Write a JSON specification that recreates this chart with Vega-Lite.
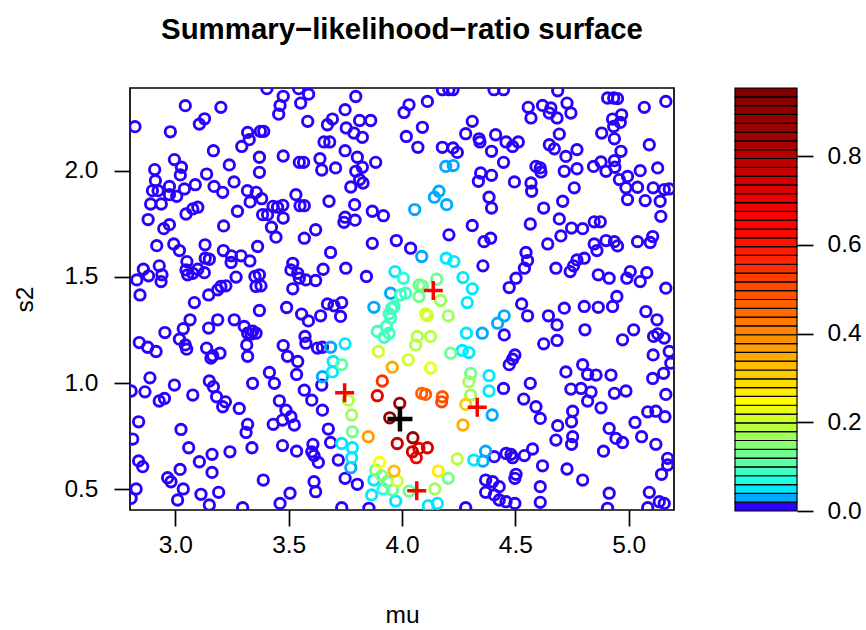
{
"$schema": "https://vega.github.io/schema/vega-lite/v6.json",
"padding": {"left": 12, "top": 13, "right": 7, "bottom": 0},
"background": "white",
"bounds": "flush",
"spacing": 61,
"config": {
  "font": "Liberation Sans",
  "view": {"stroke": null},
  "axis": {"labelFont": "Liberation Sans", "titleFont": "Liberation Sans", "labelColor": "black", "titleColor": "black", "tickColor": "black", "labelFontSize": 24.5, "titleFontSize": 24.5, "titleFontWeight": "normal", "tickSize": 16, "tickWidth": 1.7, "domain": false, "grid": false}
},
"datasets": {
"pts": [
{"mu":3.404,"s2":2.386,"z":0.01},{"mu":3.476,"s2":2.350,"z":0.01},{"mu":3.544,"s2":2.386,"z":0.01},{"mu":3.588,"s2":2.360,"z":0.01},{"mu":3.553,"s2":2.318,"z":0.01},{"mu":3.462,"s2":2.307,"z":0.01},{"mu":3.456,"s2":2.266,"z":0.01},{"mu":3.044,"s2":2.306,"z":0.01},{"mu":3.201,"s2":2.298,"z":0.01},{"mu":3.129,"s2":2.244,"z":0.01},{"mu":3.106,"s2":2.219,"z":0.01},{"mu":2.822,"s2":2.207,"z":0.01},{"mu":2.978,"s2":2.183,"z":0.01},{"mu":3.584,"s2":2.232,"z":0.01},{"mu":3.319,"s2":2.180,"z":0.01},{"mu":3.375,"s2":2.185,"z":0.01},{"mu":3.390,"s2":2.185,"z":0.01},{"mu":3.326,"s2":2.146,"z":0.01},{"mu":3.293,"s2":2.114,"z":0.01},{"mu":3.168,"s2":2.094,"z":0.01},{"mu":2.996,"s2":2.052,"z":0.01},{"mu":3.027,"s2":2.016,"z":0.01},{"mu":2.909,"s2":2.005,"z":0.01},{"mu":3.022,"s2":1.980,"z":0.01},{"mu":2.912,"s2":1.953,"z":0.01},{"mu":3.138,"s2":1.984,"z":0.01},{"mu":3.238,"s2":2.027,"z":0.01},{"mu":3.371,"s2":2.063,"z":0.01},{"mu":3.371,"s2":1.992,"z":0.01},{"mu":3.476,"s2":2.069,"z":0.01},{"mu":3.547,"s2":2.039,"z":0.01},{"mu":3.566,"s2":2.039,"z":0.01},{"mu":3.088,"s2":1.934,"z":0.01},{"mu":3.171,"s2":1.926,"z":0.01},{"mu":3.209,"s2":1.898,"z":0.01},{"mu":3.259,"s2":1.947,"z":0.01},{"mu":2.899,"s2":1.906,"z":0.01},{"mu":2.924,"s2":1.906,"z":0.01},{"mu":2.974,"s2":1.926,"z":0.01},{"mu":3.040,"s2":1.914,"z":0.01},{"mu":2.974,"s2":1.887,"z":0.01},{"mu":3.006,"s2":1.879,"z":0.01},{"mu":2.891,"s2":1.843,"z":0.01},{"mu":2.938,"s2":1.843,"z":0.01},{"mu":3.318,"s2":1.906,"z":0.01},{"mu":3.357,"s2":1.898,"z":0.01},{"mu":3.381,"s2":1.868,"z":0.01},{"mu":3.330,"s2":1.853,"z":0.01},{"mu":3.532,"s2":1.887,"z":0.01},{"mu":3.550,"s2":1.835,"z":0.01},{"mu":3.569,"s2":1.835,"z":0.01},{"mu":3.431,"s2":1.832,"z":0.01},{"mu":3.451,"s2":1.828,"z":0.01},{"mu":3.474,"s2":1.837,"z":0.01},{"mu":3.077,"s2":1.820,"z":0.01},{"mu":3.099,"s2":1.828,"z":0.01},{"mu":3.047,"s2":1.796,"z":0.01},{"mu":3.274,"s2":1.809,"z":0.01},{"mu":3.385,"s2":1.793,"z":0.01},{"mu":3.407,"s2":1.793,"z":0.01},{"mu":3.476,"s2":1.777,"z":0.01},{"mu":2.880,"s2":1.770,"z":0.01},{"mu":2.949,"s2":1.727,"z":0.01},{"mu":2.974,"s2":1.746,"z":0.01},{"mu":3.213,"s2":1.740,"z":0.01},{"mu":3.424,"s2":1.734,"z":0.01},
{"mu":3.796,"s2":2.349,"z":0.01},{"mu":3.749,"s2":2.287,"z":0.01},{"mu":3.693,"s2":2.243,"z":0.01},{"mu":3.671,"s2":2.216,"z":0.01},{"mu":3.813,"s2":2.236,"z":0.01},{"mu":3.862,"s2":2.236,"z":0.01},{"mu":3.754,"s2":2.201,"z":0.01},{"mu":3.788,"s2":2.177,"z":0.01},{"mu":3.825,"s2":2.157,"z":0.01},{"mu":3.656,"s2":2.135,"z":0.01},{"mu":3.681,"s2":2.135,"z":0.01},{"mu":3.749,"s2":2.094,"z":0.01},{"mu":3.803,"s2":2.063,"z":0.01},{"mu":3.638,"s2":2.056,"z":0.01},{"mu":3.646,"s2":2.003,"z":0.01},{"mu":3.707,"s2":2.013,"z":0.01},{"mu":3.884,"s2":2.039,"z":0.01},{"mu":3.796,"s2":1.997,"z":0.01},{"mu":3.825,"s2":2.016,"z":0.01},{"mu":3.813,"s2":1.958,"z":0.01},{"mu":3.828,"s2":1.942,"z":0.01},{"mu":3.774,"s2":1.923,"z":0.01},{"mu":3.678,"s2":1.856,"z":0.01},{"mu":3.791,"s2":1.840,"z":0.01},{"mu":3.869,"s2":1.809,"z":0.01},{"mu":3.918,"s2":1.788,"z":0.01},{"mu":3.749,"s2":1.781,"z":0.01},{"mu":3.744,"s2":1.757,"z":0.01},{"mu":3.793,"s2":1.767,"z":0.01},{"mu":4.031,"s2":2.310,"z":0.01},{"mu":4.009,"s2":2.274,"z":0.01},{"mu":4.112,"s2":2.326,"z":0.01},{"mu":4.090,"s2":2.204,"z":0.01},{"mu":4.019,"s2":2.161,"z":0.01},{"mu":4.070,"s2":2.110,"z":0.01},{"mu":4.178,"s2":2.381,"z":0.01},{"mu":4.207,"s2":2.381,"z":0.01},{"mu":4.225,"s2":2.381,"z":0.01},{"mu":4.178,"s2":2.110,"z":0.01},{"mu":4.225,"s2":2.107,"z":0.01},{"mu":4.244,"s2":2.086,"z":0.01},{"mu":4.310,"s2":2.232,"z":0.01},{"mu":4.281,"s2":2.174,"z":0.01},{"mu":4.340,"s2":2.150,"z":0.01},{"mu":4.344,"s2":2.135,"z":0.01},{"mu":4.395,"s2":2.091,"z":0.01},{"mu":4.413,"s2":2.169,"z":0.01},{"mu":4.406,"s2":2.381,"z":0.01},{"mu":4.347,"s2":1.989,"z":0.01},{"mu":4.337,"s2":1.950,"z":0.01},{"mu":4.395,"s2":1.978,"z":0.01},{"mu":4.384,"s2":1.875,"z":0.01},{"mu":4.395,"s2":1.824,"z":0.01},{"mu":4.310,"s2":1.742,"z":0.01},
{"mu":4.448,"s2":2.381,"z":0.01},{"mu":4.687,"s2":2.376,"z":0.01},{"mu":4.557,"s2":2.298,"z":0.01},{"mu":4.569,"s2":2.248,"z":0.01},{"mu":4.620,"s2":2.307,"z":0.01},{"mu":4.657,"s2":2.295,"z":0.01},{"mu":4.650,"s2":2.271,"z":0.01},{"mu":4.684,"s2":2.248,"z":0.01},{"mu":4.728,"s2":2.318,"z":0.01},{"mu":4.745,"s2":2.271,"z":0.01},{"mu":4.907,"s2":2.342,"z":0.01},{"mu":4.934,"s2":2.342,"z":0.01},{"mu":4.951,"s2":2.339,"z":0.01},{"mu":5.069,"s2":2.298,"z":0.01},{"mu":5.164,"s2":2.326,"z":0.01},{"mu":4.929,"s2":2.243,"z":0.01},{"mu":4.969,"s2":2.263,"z":0.01},{"mu":4.963,"s2":2.227,"z":0.01},{"mu":4.934,"s2":2.208,"z":0.01},{"mu":4.881,"s2":2.177,"z":0.01},{"mu":4.937,"s2":2.150,"z":0.01},{"mu":4.694,"s2":2.172,"z":0.01},{"mu":4.459,"s2":2.135,"z":0.01},{"mu":4.488,"s2":2.114,"z":0.01},{"mu":4.513,"s2":2.135,"z":0.01},{"mu":4.650,"s2":2.122,"z":0.01},{"mu":4.672,"s2":2.103,"z":0.01},{"mu":4.723,"s2":2.067,"z":0.01},{"mu":4.772,"s2":2.099,"z":0.01},{"mu":4.966,"s2":2.091,"z":0.01},{"mu":4.448,"s2":2.039,"z":0.01},{"mu":5.091,"s2":2.122,"z":0.01},{"mu":4.496,"s2":1.947,"z":0.01},{"mu":4.591,"s2":2.020,"z":0.01},{"mu":4.610,"s2":2.013,"z":0.01},{"mu":4.613,"s2":1.994,"z":0.01},{"mu":4.716,"s2":1.997,"z":0.01},{"mu":4.772,"s2":2.009,"z":0.01},{"mu":4.845,"s2":2.020,"z":0.01},{"mu":4.878,"s2":2.041,"z":0.01},{"mu":4.900,"s2":1.997,"z":0.01},{"mu":4.937,"s2":2.047,"z":0.01},{"mu":4.939,"s2":2.016,"z":0.01},{"mu":4.959,"s2":1.958,"z":0.01},{"mu":4.995,"s2":1.973,"z":0.01},{"mu":5.051,"s2":2.000,"z":0.01},{"mu":5.128,"s2":2.013,"z":0.01},{"mu":4.569,"s2":1.942,"z":0.01},{"mu":4.572,"s2":1.903,"z":0.01},{"mu":4.760,"s2":1.919,"z":0.01},{"mu":4.988,"s2":1.919,"z":0.01},{"mu":5.039,"s2":1.922,"z":0.01},{"mu":5.108,"s2":1.919,"z":0.01},{"mu":5.157,"s2":1.911,"z":0.01},{"mu":5.179,"s2":1.914,"z":0.01},{"mu":4.995,"s2":1.864,"z":0.01},{"mu":5.073,"s2":1.859,"z":0.01},{"mu":5.139,"s2":1.856,"z":0.01},{"mu":4.709,"s2":1.856,"z":0.01},{"mu":4.625,"s2":1.824,"z":0.01},{"mu":4.694,"s2":1.773,"z":0.01},{"mu":4.566,"s2":1.749,"z":0.01},{"mu":4.748,"s2":1.730,"z":0.01},{"mu":4.797,"s2":1.727,"z":0.01},{"mu":4.848,"s2":1.759,"z":0.01},{"mu":4.875,"s2":1.759,"z":0.01},{"mu":5.142,"s2":1.785,"z":0.01},
{"mu":3.444,"s2":1.687,"z":0.01},{"mu":3.569,"s2":1.682,"z":0.01},{"mu":2.918,"s2":1.647,"z":0.01},{"mu":2.993,"s2":1.655,"z":0.01},{"mu":3.018,"s2":1.624,"z":0.01},{"mu":3.131,"s2":1.651,"z":0.01},{"mu":3.212,"s2":1.624,"z":0.01},{"mu":3.247,"s2":1.599,"z":0.01},{"mu":3.290,"s2":1.599,"z":0.01},{"mu":3.329,"s2":1.575,"z":0.01},{"mu":3.363,"s2":1.643,"z":0.01},{"mu":3.051,"s2":1.572,"z":0.01},{"mu":3.132,"s2":1.588,"z":0.01},{"mu":3.150,"s2":1.583,"z":0.01},{"mu":3.246,"s2":1.568,"z":0.01},{"mu":2.859,"s2":1.536,"z":0.01},{"mu":2.929,"s2":1.552,"z":0.01},{"mu":2.882,"s2":1.505,"z":0.01},{"mu":2.830,"s2":1.486,"z":0.01},{"mu":2.941,"s2":1.510,"z":0.01},{"mu":2.937,"s2":1.478,"z":0.01},{"mu":3.047,"s2":1.533,"z":0.01},{"mu":3.054,"s2":1.510,"z":0.01},{"mu":3.077,"s2":1.517,"z":0.01},{"mu":3.099,"s2":1.536,"z":0.01},{"mu":3.128,"s2":1.520,"z":0.01},{"mu":3.268,"s2":1.499,"z":0.01},{"mu":3.351,"s2":1.502,"z":0.01},{"mu":3.371,"s2":1.510,"z":0.01},{"mu":3.356,"s2":1.455,"z":0.01},{"mu":3.378,"s2":1.458,"z":0.01},{"mu":3.201,"s2":1.455,"z":0.01},{"mu":3.223,"s2":1.458,"z":0.01},{"mu":3.187,"s2":1.439,"z":0.01},{"mu":3.147,"s2":1.415,"z":0.01},{"mu":2.844,"s2":1.415,"z":0.01},{"mu":3.084,"s2":1.379,"z":0.01},{"mu":3.518,"s2":1.564,"z":0.01},{"mu":3.510,"s2":1.533,"z":0.01},{"mu":3.540,"s2":1.517,"z":0.01},{"mu":3.547,"s2":1.494,"z":0.01},{"mu":3.576,"s2":1.486,"z":0.01},{"mu":3.518,"s2":1.444,"z":0.01},{"mu":3.371,"s2":1.342,"z":0.01},{"mu":3.491,"s2":1.356,"z":0.01},{"mu":3.557,"s2":1.325,"z":0.01},{"mu":3.587,"s2":1.293,"z":0.01},{"mu":2.954,"s2":1.238,"z":0.01},{"mu":3.065,"s2":1.298,"z":0.01},{"mu":3.035,"s2":1.256,"z":0.01},{"mu":3.018,"s2":1.207,"z":0.01},{"mu":3.044,"s2":1.180,"z":0.01},{"mu":3.050,"s2":1.160,"z":0.01},{"mu":2.841,"s2":1.191,"z":0.01},{"mu":2.878,"s2":1.169,"z":0.01},{"mu":2.915,"s2":1.149,"z":0.01},{"mu":3.147,"s2":1.259,"z":0.01},{"mu":3.187,"s2":1.298,"z":0.01},{"mu":3.260,"s2":1.298,"z":0.01},{"mu":3.304,"s2":1.267,"z":0.01},{"mu":3.319,"s2":1.235,"z":0.01},{"mu":3.334,"s2":1.231,"z":0.01},{"mu":3.356,"s2":1.235,"z":0.01},{"mu":3.341,"s2":1.245,"z":0.01},{"mu":3.315,"s2":1.180,"z":0.01},{"mu":3.138,"s2":1.165,"z":0.01},{"mu":3.165,"s2":1.129,"z":0.01},{"mu":3.197,"s2":1.141,"z":0.01},{"mu":3.157,"s2":1.118,"z":0.01},{"mu":3.319,"s2":1.126,"z":0.01},{"mu":3.476,"s2":1.177,"z":0.01},{"mu":3.495,"s2":1.126,"z":0.01},{"mu":3.540,"s2":1.102,"z":0.01},{"mu":3.572,"s2":1.220,"z":0.01},{"mu":3.576,"s2":1.188,"z":0.01},
{"mu":3.619,"s2":1.722,"z":0.01},{"mu":3.869,"s2":1.658,"z":0.01},{"mu":3.975,"s2":1.671,"z":0.01},{"mu":4.038,"s2":1.635,"z":0.01},{"mu":3.685,"s2":1.615,"z":0.01},{"mu":3.652,"s2":1.536,"z":0.01},{"mu":3.752,"s2":1.541,"z":0.01},{"mu":3.843,"s2":1.502,"z":0.01},{"mu":3.619,"s2":1.483,"z":0.01},{"mu":4.207,"s2":1.698,"z":0.01},{"mu":4.362,"s2":1.666,"z":0.01},{"mu":4.391,"s2":1.682,"z":0.01},{"mu":4.357,"s2":1.552,"z":0.01},{"mu":3.671,"s2":1.373,"z":0.01},{"mu":3.700,"s2":1.364,"z":0.01},{"mu":3.734,"s2":1.379,"z":0.01},{"mu":3.641,"s2":1.317,"z":0.01},{"mu":3.729,"s2":1.314,"z":0.01},{"mu":3.627,"s2":1.165,"z":0.01},{"mu":3.649,"s2":1.169,"z":0.01},
{"mu":4.643,"s2":1.655,"z":0.01},{"mu":4.701,"s2":1.693,"z":0.01},{"mu":4.848,"s2":1.655,"z":0.01},{"mu":4.860,"s2":1.624,"z":0.01},{"mu":4.900,"s2":1.671,"z":0.01},{"mu":4.937,"s2":1.666,"z":0.01},{"mu":4.951,"s2":1.646,"z":0.01},{"mu":5.039,"s2":1.666,"z":0.01},{"mu":5.106,"s2":1.690,"z":0.01},{"mu":5.095,"s2":1.662,"z":0.01},{"mu":4.547,"s2":1.615,"z":0.01},{"mu":4.554,"s2":1.577,"z":0.01},{"mu":4.540,"s2":1.541,"z":0.01},{"mu":4.679,"s2":1.541,"z":0.01},{"mu":4.742,"s2":1.525,"z":0.01},{"mu":4.757,"s2":1.552,"z":0.01},{"mu":4.772,"s2":1.580,"z":0.01},{"mu":4.804,"s2":1.588,"z":0.01},{"mu":4.503,"s2":1.494,"z":0.01},{"mu":4.473,"s2":1.450,"z":0.01},{"mu":4.866,"s2":1.510,"z":0.01},{"mu":4.914,"s2":1.494,"z":0.01},{"mu":4.992,"s2":1.494,"z":0.01},{"mu":5.007,"s2":1.525,"z":0.01},{"mu":5.051,"s2":1.478,"z":0.01},{"mu":5.080,"s2":1.520,"z":0.01},{"mu":5.164,"s2":1.447,"z":0.01},{"mu":4.948,"s2":1.408,"z":0.01},{"mu":4.929,"s2":1.361,"z":0.01},{"mu":4.866,"s2":1.357,"z":0.01},{"mu":4.804,"s2":1.361,"z":0.01},{"mu":4.716,"s2":1.353,"z":0.01},{"mu":4.528,"s2":1.373,"z":0.01},{"mu":4.554,"s2":1.317,"z":0.01},{"mu":4.646,"s2":1.317,"z":0.01},{"mu":4.684,"s2":1.274,"z":0.01},{"mu":4.807,"s2":1.251,"z":0.01},{"mu":4.625,"s2":1.185,"z":0.01},{"mu":4.684,"s2":1.201,"z":0.01},{"mu":4.973,"s2":1.204,"z":0.01},{"mu":5.022,"s2":1.251,"z":0.01},{"mu":5.076,"s2":1.337,"z":0.01},{"mu":5.125,"s2":1.298,"z":0.01},{"mu":5.110,"s2":1.220,"z":0.01},{"mu":5.128,"s2":1.232,"z":0.01},{"mu":5.157,"s2":1.212,"z":0.01},{"mu":5.179,"s2":1.149,"z":0.01},{"mu":5.186,"s2":1.094,"z":0.01},{"mu":5.108,"s2":1.133,"z":0.01},{"mu":4.451,"s2":1.227,"z":0.01},{"mu":4.498,"s2":1.133,"z":0.01},{"mu":4.488,"s2":1.113,"z":0.01},{"mu":4.473,"s2":1.087,"z":0.01},{"mu":4.797,"s2":1.087,"z":0.01},
{"mu":2.888,"s2":1.025,"z":0.01},{"mu":3.150,"s2":1.010,"z":0.01},{"mu":3.168,"s2":0.983,"z":0.01},{"mu":3.182,"s2":0.936,"z":0.01},{"mu":3.209,"s2":0.889,"z":0.01},{"mu":3.221,"s2":0.912,"z":0.01},{"mu":2.996,"s2":0.991,"z":0.01},{"mu":2.866,"s2":0.959,"z":0.01},{"mu":2.805,"s2":0.963,"z":0.01},{"mu":2.929,"s2":0.916,"z":0.01},{"mu":2.952,"s2":0.928,"z":0.01},{"mu":3.077,"s2":0.944,"z":0.01},{"mu":3.282,"s2":0.881,"z":0.01},{"mu":3.341,"s2":0.999,"z":0.01},{"mu":3.415,"s2":1.050,"z":0.01},{"mu":3.437,"s2":0.999,"z":0.01},{"mu":3.535,"s2":1.041,"z":0.01},{"mu":3.569,"s2":0.967,"z":0.01},{"mu":3.459,"s2":0.917,"z":0.01},{"mu":3.488,"s2":0.873,"z":0.01},{"mu":3.510,"s2":0.842,"z":0.01},{"mu":3.525,"s2":0.803,"z":0.01},{"mu":3.473,"s2":0.826,"z":0.01},{"mu":3.432,"s2":0.806,"z":0.01},{"mu":3.319,"s2":0.806,"z":0.01},{"mu":3.312,"s2":0.768,"z":0.01},{"mu":2.838,"s2":0.818,"z":0.01},{"mu":3.025,"s2":0.782,"z":0.01},{"mu":2.812,"s2":0.737,"z":0.01},{"mu":3.059,"s2":0.696,"z":0.01},{"mu":3.106,"s2":0.630,"z":0.01},{"mu":3.162,"s2":0.665,"z":0.01},{"mu":3.241,"s2":0.677,"z":0.01},{"mu":3.338,"s2":0.696,"z":0.01},{"mu":3.473,"s2":0.706,"z":0.01},{"mu":3.535,"s2":0.680,"z":0.01},{"mu":2.838,"s2":0.634,"z":0.01},{"mu":2.856,"s2":0.607,"z":0.01},{"mu":3.021,"s2":0.594,"z":0.01},{"mu":2.966,"s2":0.555,"z":0.01},{"mu":2.981,"s2":0.536,"z":0.01},{"mu":3.162,"s2":0.580,"z":0.01},{"mu":3.035,"s2":0.502,"z":0.01},{"mu":3.113,"s2":0.477,"z":0.01},{"mu":3.191,"s2":0.486,"z":0.01},{"mu":3.010,"s2":0.450,"z":0.01},{"mu":3.150,"s2":0.427,"z":0.01},{"mu":3.297,"s2":0.414,"z":0.01},{"mu":3.388,"s2":0.544,"z":0.01},{"mu":3.462,"s2":0.434,"z":0.01},{"mu":3.506,"s2":0.482,"z":0.01},{"mu":2.827,"s2":0.502,"z":0.01},{"mu":2.805,"s2":0.458,"z":0.01},
{"mu":3.646,"s2":0.991,"z":0.01},{"mu":3.602,"s2":0.920,"z":0.01},{"mu":3.649,"s2":0.873,"z":0.01},{"mu":3.675,"s2":0.784,"z":0.01},{"mu":3.685,"s2":0.721,"z":0.01},{"mu":3.607,"s2":0.712,"z":0.01},{"mu":3.602,"s2":0.677,"z":0.01},{"mu":3.612,"s2":0.659,"z":0.01},{"mu":3.631,"s2":0.627,"z":0.01},{"mu":3.719,"s2":0.638,"z":0.01},{"mu":3.612,"s2":0.536,"z":0.01},{"mu":3.619,"s2":0.489,"z":0.01},{"mu":3.749,"s2":0.552,"z":0.01},{"mu":3.803,"s2":0.524,"z":0.01},{"mu":3.734,"s2":0.414,"z":0.01},{"mu":3.854,"s2":0.411,"z":0.01},{"mu":4.281,"s2":0.414,"z":0.01},{"mu":4.369,"s2":0.544,"z":0.01},{"mu":4.369,"s2":0.486,"z":0.01},
{"mu":4.723,"s2":1.053,"z":0.01},{"mu":4.819,"s2":1.041,"z":0.01},{"mu":4.856,"s2":1.038,"z":0.01},{"mu":4.922,"s2":1.038,"z":0.01},{"mu":5.106,"s2":1.022,"z":0.01},{"mu":5.154,"s2":1.046,"z":0.01},{"mu":4.566,"s2":0.999,"z":0.01},{"mu":4.448,"s2":0.975,"z":0.01},{"mu":4.537,"s2":0.925,"z":0.01},{"mu":4.591,"s2":0.889,"z":0.01},{"mu":4.610,"s2":0.834,"z":0.01},{"mu":4.745,"s2":0.972,"z":0.01},{"mu":4.790,"s2":0.975,"z":0.01},{"mu":4.834,"s2":0.958,"z":0.01},{"mu":4.819,"s2":0.916,"z":0.01},{"mu":4.753,"s2":0.868,"z":0.01},{"mu":4.748,"s2":0.818,"z":0.01},{"mu":4.878,"s2":0.884,"z":0.01},{"mu":4.937,"s2":0.952,"z":0.01},{"mu":4.988,"s2":0.963,"z":0.01},{"mu":4.687,"s2":0.800,"z":0.01},{"mu":4.679,"s2":0.732,"z":0.01},{"mu":4.753,"s2":0.748,"z":0.01},{"mu":4.748,"s2":0.712,"z":0.01},{"mu":4.914,"s2":0.787,"z":0.01},{"mu":4.944,"s2":0.740,"z":0.01},{"mu":4.973,"s2":0.721,"z":0.01},{"mu":4.889,"s2":0.680,"z":0.01},{"mu":5.028,"s2":0.815,"z":0.01},{"mu":5.057,"s2":0.748,"z":0.01},{"mu":5.084,"s2":0.865,"z":0.01},{"mu":5.120,"s2":0.868,"z":0.01},{"mu":5.160,"s2":0.842,"z":0.01},{"mu":5.164,"s2":0.947,"z":0.01},{"mu":5.120,"s2":0.712,"z":0.01},{"mu":4.407,"s2":0.654,"z":0.01},{"mu":4.459,"s2":0.669,"z":0.01},{"mu":4.481,"s2":0.665,"z":0.01},{"mu":4.488,"s2":0.649,"z":0.01},{"mu":4.540,"s2":0.659,"z":0.01},{"mu":4.576,"s2":0.690,"z":0.01},{"mu":4.620,"s2":0.611,"z":0.01},{"mu":4.728,"s2":0.596,"z":0.01},{"mu":4.797,"s2":0.544,"z":0.01},{"mu":4.503,"s2":0.571,"z":0.01},{"mu":4.498,"s2":0.552,"z":0.01},{"mu":4.400,"s2":0.536,"z":0.01},{"mu":4.429,"s2":0.513,"z":0.01},{"mu":4.407,"s2":0.474,"z":0.01},{"mu":4.429,"s2":0.450,"z":0.01},{"mu":4.459,"s2":0.442,"z":0.01},{"mu":4.498,"s2":0.434,"z":0.01},{"mu":4.610,"s2":0.513,"z":0.01},{"mu":4.610,"s2":0.439,"z":0.01},{"mu":4.914,"s2":0.482,"z":0.01},{"mu":4.907,"s2":0.411,"z":0.01},{"mu":5.091,"s2":0.486,"z":0.01},{"mu":5.135,"s2":0.442,"z":0.01},{"mu":5.157,"s2":0.434,"z":0.01},{"mu":5.172,"s2":0.646,"z":0.01},{"mu":5.172,"s2":0.615,"z":0.01},{"mu":5.145,"s2":0.571,"z":0.01},{"mu":5.084,"s2":0.414,"z":0.01},
{"mu":4.193,"s2":2.020,"z":0.03},{"mu":4.226,"s2":2.024,"z":0.03},{"mu":4.163,"s2":1.903,"z":0.03},{"mu":4.143,"s2":1.875,"z":0.03},{"mu":4.197,"s2":1.840,"z":0.03},{"mu":4.056,"s2":1.817,"z":0.03},
{"mu":4.422,"s2":1.282,"z":0.03},{"mu":4.451,"s2":1.317,"z":0.03},
{"mu":4.087,"s2":1.596,"z":0.03},{"mu":3.950,"s2":1.423,"z":0.03},{"mu":3.876,"s2":1.357,"z":0.03},{"mu":4.354,"s2":1.235,"z":0.03},{"mu":3.685,"s2":1.169,"z":0.03},
{"mu":3.649,"s2":1.030,"z":0.03},{"mu":4.398,"s2":0.850,"z":0.03},{"mu":3.774,"s2":0.602,"z":0.03},{"mu":4.369,"s2":0.680,"z":0.03},{"mu":4.357,"s2":0.633,"z":0.03},{"mu":3.866,"s2":0.474,"z":0.04},{"mu":3.734,"s2":0.716,"z":0.04},
{"mu":4.195,"s2":1.588,"z":0.05},{"mu":4.229,"s2":1.572,"z":0.05},{"mu":3.969,"s2":1.525,"z":0.05},{"mu":4.269,"s2":1.497,"z":0.05},{"mu":4.310,"s2":1.444,"z":0.05},{"mu":4.288,"s2":1.379,"z":0.05},{"mu":4.284,"s2":1.235,"z":0.05},{"mu":3.749,"s2":1.185,"z":0.05},{"mu":3.696,"s2":1.102,"z":0.05},{"mu":4.266,"s2":1.154,"z":0.05},{"mu":4.295,"s2":1.144,"z":0.05},
{"mu":3.693,"s2":1.053,"z":0.05},{"mu":4.384,"s2":1.035,"z":0.05},{"mu":4.384,"s2":0.963,"z":0.05},{"mu":3.781,"s2":0.696,"z":0.05},{"mu":3.778,"s2":0.649,"z":0.05},{"mu":4.317,"s2":0.638,"z":0.05},{"mu":3.876,"s2":0.544,"z":0.05},{"mu":3.972,"s2":0.445,"z":0.05},{"mu":4.116,"s2":0.423,"z":0.05},{"mu":4.156,"s2":0.434,"z":0.05},
{"mu":4.006,"s2":1.494,"z":0.07},{"mu":3.916,"s2":0.502,"z":0.07},
{"mu":3.994,"s2":1.415,"z":0.08},{"mu":4.016,"s2":1.423,"z":0.08},{"mu":3.954,"s2":1.353,"z":0.08},{"mu":3.965,"s2":1.361,"z":0.08},{"mu":3.943,"s2":1.326,"z":0.08},{"mu":3.950,"s2":1.306,"z":0.08},{"mu":3.931,"s2":1.267,"z":0.08},{"mu":3.891,"s2":1.243,"z":0.08},{"mu":3.921,"s2":1.216,"z":0.08},{"mu":3.943,"s2":1.235,"z":0.08},
{"mu":3.734,"s2":1.087,"z":0.1},{"mu":3.957,"s2":0.497,"z":0.11},{"mu":3.935,"s2":0.536,"z":0.12},{"mu":4.303,"s2":1.046,"z":0.12},{"mu":4.031,"s2":0.492,"z":0.12},
{"mu":4.075,"s2":1.462,"z":0.13},{"mu":4.090,"s2":1.458,"z":0.13},{"mu":4.153,"s2":1.489,"z":0.13},{"mu":4.075,"s2":1.408,"z":0.13},{"mu":4.215,"s2":1.141,"z":0.13},{"mu":3.781,"s2":0.771,"z":0.13},{"mu":3.884,"s2":0.591,"z":0.13},{"mu":4.204,"s2":0.552,"z":0.13},{"mu":3.910,"s2":0.565,"z":0.14},
{"mu":4.295,"s2":1.006,"z":0.16},{"mu":4.145,"s2":0.502,"z":0.16},
{"mu":4.170,"s2":1.389,"z":0.17},{"mu":4.204,"s2":1.317,"z":0.17},{"mu":4.303,"s2":0.944,"z":0.17},{"mu":3.778,"s2":0.850,"z":0.17},
{"mu":4.068,"s2":1.220,"z":0.18},{"mu":4.126,"s2":1.220,"z":0.18},{"mu":4.060,"s2":1.180,"z":0.18},{"mu":3.763,"s2":0.920,"z":0.18},{"mu":4.244,"s2":0.643,"z":0.18},
{"mu":4.104,"s2":1.326,"z":0.2},{"mu":4.112,"s2":1.317,"z":0.2},{"mu":3.979,"s2":0.539,"z":0.2},
{"mu":3.896,"s2":1.149,"z":0.21},{"mu":4.028,"s2":1.110,"z":0.21},{"mu":4.126,"s2":1.071,"z":0.23},{"mu":3.901,"s2":0.627,"z":0.24},
{"mu":4.160,"s2":0.586,"z":0.27},{"mu":4.281,"s2":0.900,"z":0.3},{"mu":3.965,"s2":0.586,"z":0.32},{"mu":4.269,"s2":0.803,"z":0.34},{"mu":3.957,"s2":1.075,"z":0.34},{"mu":3.851,"s2":0.748,"z":0.37},
{"mu":4.087,"s2":0.952,"z":0.46},{"mu":4.104,"s2":0.947,"z":0.46},{"mu":4.178,"s2":0.936,"z":0.48},{"mu":4.175,"s2":0.912,"z":0.5},{"mu":3.913,"s2":1.010,"z":0.55},
{"mu":4.063,"s2":0.649,"z":0.66},{"mu":3.891,"s2":0.941,"z":0.7},{"mu":4.075,"s2":0.693,"z":0.7},{"mu":4.112,"s2":0.696,"z":0.72},{"mu":4.046,"s2":0.677,"z":0.74},{"mu":3.979,"s2":0.716,"z":0.76},
{"mu":3.990,"s2":0.905,"z":0.85},{"mu":4.048,"s2":0.743,"z":0.86},{"mu":3.946,"s2":0.837,"z":0.88}
],
"crosses": [
{"mu":4.138,"s2":1.436,"kind":"red"},{"mu":3.747,"s2":0.955,"kind":"red"},{"mu":4.332,"s2":0.887,"kind":"red"},{"mu":4.065,"s2":0.494,"kind":"red"},{"mu":3.991,"s2":0.831,"kind":"black"}
],
"bands": [
{"lo":0,"hi":0.0199},{"lo":0.0199,"hi":0.0398},{"lo":0.0398,"hi":0.0596},{"lo":0.0596,"hi":0.0795},{"lo":0.0795,"hi":0.0994},{"lo":0.0994,"hi":0.1193},{"lo":0.1193,"hi":0.1391},{"lo":0.1391,"hi":0.1590},{"lo":0.1590,"hi":0.1789},{"lo":0.1789,"hi":0.1988},{"lo":0.1988,"hi":0.2186},{"lo":0.2186,"hi":0.2385},{"lo":0.2385,"hi":0.2584},{"lo":0.2584,"hi":0.2783},{"lo":0.2783,"hi":0.2981},{"lo":0.2981,"hi":0.3180},{"lo":0.3180,"hi":0.3379},{"lo":0.3379,"hi":0.3578},{"lo":0.3578,"hi":0.3776},{"lo":0.3776,"hi":0.3975},{"lo":0.3975,"hi":0.4174},{"lo":0.4174,"hi":0.4373},{"lo":0.4373,"hi":0.4571},{"lo":0.4571,"hi":0.4770},{"lo":0.4770,"hi":0.4969},{"lo":0.4969,"hi":0.5168},{"lo":0.5168,"hi":0.5366},{"lo":0.5366,"hi":0.5565},{"lo":0.5565,"hi":0.5764},{"lo":0.5764,"hi":0.5963},{"lo":0.5963,"hi":0.6161},{"lo":0.6161,"hi":0.6360},{"lo":0.6360,"hi":0.6559},{"lo":0.6559,"hi":0.6758},{"lo":0.6758,"hi":0.6956},{"lo":0.6956,"hi":0.7155},{"lo":0.7155,"hi":0.7354},{"lo":0.7354,"hi":0.7553},{"lo":0.7553,"hi":0.7751},{"lo":0.7751,"hi":0.7950},{"lo":0.7950,"hi":0.8149},{"lo":0.8149,"hi":0.8348},{"lo":0.8348,"hi":0.8546},{"lo":0.8546,"hi":0.8745},{"lo":0.8745,"hi":0.8944},{"lo":0.8944,"hi":0.9143},{"lo":0.9143,"hi":0.9341},{"lo":0.9341,"hi":0.9540}
]
},
"hconcat": [
{
  "width": 544, "height": 422,
  "title": {"text": "Summary−likelihood−ratio surface", "fontSize": 29.4, "fontWeight": "bold", "font": "Liberation Sans", "anchor": "middle", "frame": "group", "baseline": "alphabetic", "offset": 20, "color": "black"},
  "view": {"stroke": "black", "strokeWidth": 1.7},
  "layer": [
    {
      "data": {"name": "pts"},
      "mark": {"type": "point", "shape": "circle", "filled": false, "size": 108, "strokeWidth": 2.9, "opacity": 1, "clip": true},
      "encoding": {
        "x": {"field": "mu", "type": "quantitative", "scale": {"domain": [2.8, 5.2], "nice": false, "zero": false}, "axis": {"values": [3, 3.5, 4, 4.5, 5], "format": ".1f", "labelPadding": 7, "title": "mu", "titlePadding": 47}},
        "y": {"field": "s2", "type": "quantitative", "scale": {"domain": [0.403, 2.389], "nice": false, "zero": false}, "axis": {"values": [0.5, 1, 1.5, 2], "format": ".1f", "labelPadding": 16, "title": "s2", "titlePadding": 26}},
        "color": {"field": "z", "type": "quantitative", "legend": null, "scale": {"type": "threshold", "domain": [0.0199,0.0398,0.0596,0.0795,0.0994,0.1193,0.1391,0.1590,0.1789,0.1988,0.2186,0.2385,0.2584,0.2783,0.2981,0.3180,0.3379,0.3578,0.3776,0.3975,0.4174,0.4373,0.4571,0.4770,0.4969,0.5168,0.5366,0.5565,0.5764,0.5963,0.6161,0.6360,0.6559,0.6758,0.6956,0.7155,0.7354,0.7553,0.7751,0.7950,0.8149,0.8348,0.8546,0.8745,0.8944,0.9143,0.9341], "range": ["#2A00FF","#00A8FF","#00E8FF","#20FFE0","#40FFC0","#58FFA5","#70FF8C","#88FF74","#A0FF5C","#B8FF44","#D0FF2C","#E8FF14","#FFFF00","#FFEC00","#FFDC00","#FFCC00","#FFBC00","#FFAC00","#FF9E00","#FF9000","#FF8400","#FF7800","#FF6C00","#FF6000","#FF5400","#FF4800","#FF3C00","#FF3000","#FF2600","#FF1C00","#FF1200","#FF0A00","#FF0400","#FF0000","#F40000","#E80000","#DE0000","#D40000","#CA0000","#C00000","#B60000","#AC0000","#A40000","#9C0000","#940000","#8E0000","#880000","#820000"]}}
      }
    },
    {
      "data": {"name": "crosses"},
      "transform": [{"filter": "datum.kind === 'red'"}],
      "mark": {"type": "point", "shape": "M-1,0L1,0M0,-1L0,1", "filled": false, "size": 361, "strokeWidth": 3.5, "color": "#FF0000", "opacity": 1, "strokeCap": "butt"},
      "encoding": {"x": {"field": "mu", "type": "quantitative"}, "y": {"field": "s2", "type": "quantitative"}}
    },
    {
      "data": {"name": "crosses"},
      "transform": [{"filter": "datum.kind === 'black'"}],
      "mark": {"type": "point", "shape": "M-1,0L1,0M0,-1L0,1", "filled": false, "size": 625, "strokeWidth": 4.5, "color": "#000000", "opacity": 1, "strokeCap": "butt"},
      "encoding": {"x": {"field": "mu", "type": "quantitative"}, "y": {"field": "s2", "type": "quantitative"}}
    }
  ]
},
{
  "width": 62, "height": 423,
  "data": {"name": "bands"},
  "mark": {"type": "rect", "stroke": "black", "strokeWidth": 1.2},
  "encoding": {
    "y": {"field": "lo", "type": "quantitative", "scale": {"domain": [0, 0.954], "nice": false, "zero": false}, "axis": {"orient": "right", "values": [0, 0.2, 0.4, 0.6, 0.8], "format": ".1f", "labelPadding": 14, "title": null}},
    "y2": {"field": "hi"},
    "x": {"value": 0},
    "x2": {"value": "width"},
    "color": {"field": "lo", "type": "quantitative", "legend": null, "scale": {"type": "threshold", "domain": [0.0199,0.0398,0.0596,0.0795,0.0994,0.1193,0.1391,0.1590,0.1789,0.1988,0.2186,0.2385,0.2584,0.2783,0.2981,0.3180,0.3379,0.3578,0.3776,0.3975,0.4174,0.4373,0.4571,0.4770,0.4969,0.5168,0.5366,0.5565,0.5764,0.5963,0.6161,0.6360,0.6559,0.6758,0.6956,0.7155,0.7354,0.7553,0.7751,0.7950,0.8149,0.8348,0.8546,0.8745,0.8944,0.9143,0.9341], "range": ["#2A00FF","#00A8FF","#00E8FF","#20FFE0","#40FFC0","#58FFA5","#70FF8C","#88FF74","#A0FF5C","#B8FF44","#D0FF2C","#E8FF14","#FFFF00","#FFEC00","#FFDC00","#FFCC00","#FFBC00","#FFAC00","#FF9E00","#FF9000","#FF8400","#FF7800","#FF6C00","#FF6000","#FF5400","#FF4800","#FF3C00","#FF3000","#FF2600","#FF1C00","#FF1200","#FF0A00","#FF0400","#FF0000","#F40000","#E80000","#DE0000","#D40000","#CA0000","#C00000","#B60000","#AC0000","#A40000","#9C0000","#940000","#8E0000","#880000","#820000"]}}
  }
}
]
}
